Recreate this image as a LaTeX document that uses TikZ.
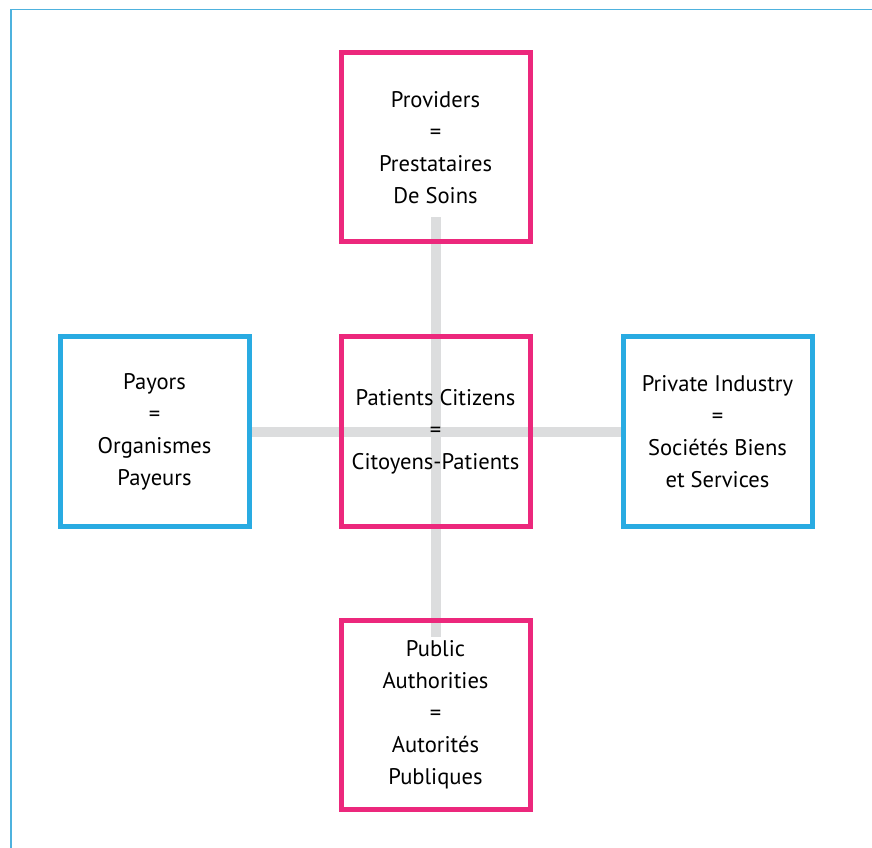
\documentclass[tikz,border=0pt]{standalone}
\usepackage{fontspec}
\setmainfont{PT Sans}
\usetikzlibrary{positioning,backgrounds}
\definecolor{rose}{RGB}{236,40,124}
\definecolor{cyanbox}{RGB}{41,171,226}
\definecolor{framecol}{RGB}{78,178,222}
\definecolor{linkgray}{RGB}{220,221,222}
\begin{document}
\begin{tikzpicture}[
			x=1pt, y=1pt,
			node distance={283pt},
			main/.style = {draw, line width=5pt, minimum size=189pt, inner sep=0pt, align=center, font=\fontsize{22.6}{32}\selectfont},
			actor/.style = {main, draw=rose},
			funder/.style = {main, draw=cyanbox},
			link/.style = {draw=linkgray, line width=10pt}
		]
		\useasboundingbox (0,0) rectangle (872,847);
		\draw[framecol, line width=1.6pt] (11,-5) |- (880,837.5);
		\node[actor] (mid) at (435.5,415.5) {Patients Citizens\\=\\Citoyens-Patients};
		\node[actor] (top) [above of=mid, yshift=1pt] {Providers\\=\\Prestataires\\De Soins};
		\node[actor] (bot) [below of=mid] {Public\\Authorities\\=\\Autorités\\Publiques};
		\node[funder] (pay) [left of=mid, xshift=2pt] {Payors\\=\\Organismes\\Payeurs};
		\node[funder] (ind) [right of=mid, xshift=-1pt] {Private Industry\\=\\Sociétés Biens\\et Services};
		\begin{pgfonlayer}{background}
			\draw[link, shorten <=-27pt, shorten >=-19pt] (top.south) -- (bot.north);
			\draw[link] (pay.east) -- (ind.west);
		\end{pgfonlayer}
	\end{tikzpicture}
\end{document}
